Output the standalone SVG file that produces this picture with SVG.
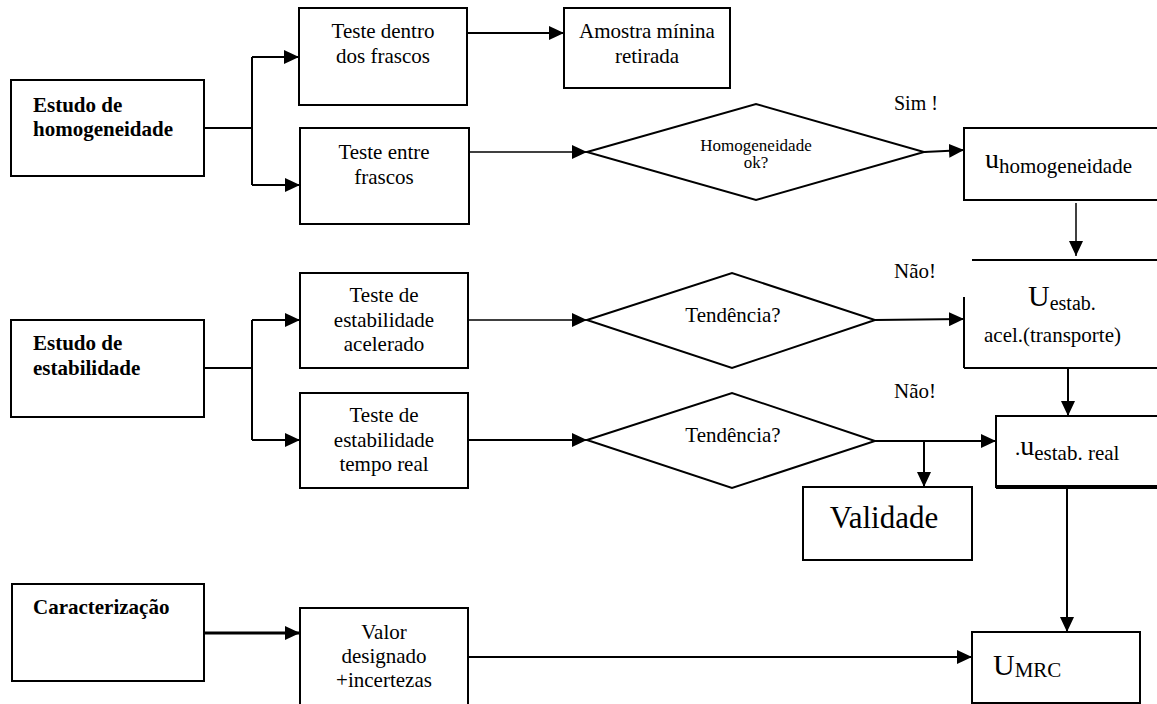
<svg xmlns="http://www.w3.org/2000/svg" width="1157" height="704" viewBox="0 0 1157 704" font-family="'Liberation Serif', 'DejaVu Serif', serif">
<defs>
<marker id="ah" markerWidth="15" markerHeight="14" refX="15" refY="7" orient="auto" markerUnits="userSpaceOnUse">
<path d="M0,0 L15,7 L0,14 Z" fill="#000"/>
</marker>
<style>
.box{fill:#fff;stroke:#000;stroke-width:2}
.edge{fill:none;stroke:#000;stroke-width:2}
.e{fill:none;stroke:#000;stroke-width:2;marker-end:url(#ah)}
text{font-family:'Liberation Serif','DejaVu Serif',serif;fill:#000;font-size:21px}
.b{font-weight:bold}
.c{text-anchor:middle}
</style>
</defs>
<rect width="1157" height="704" fill="#fff"/>

<g id="connectors">
<path class="edge" d="M204 128 H252 M252 57 V185"/>
<path class="e" d="M252 57 H299"/>
<path class="e" d="M252 185 H300"/>
<path class="e" d="M467 33 H564"/>
<path class="e" style="stroke-width:1.5" d="M469 152 H587"/>
<path class="e" d="M924 152 L945 151 L964 150"/>
<path class="e" style="stroke-width:1.5" d="M1076 203 V256"/>
<path class="e" d="M875 320 L964 319"/>
<path class="e" d="M1068 368 V416"/>
<path class="edge" d="M204 368 H252 M252 320 V440"/>
<path class="e" d="M252 320 H300"/>
<path class="e" d="M252 440 H300"/>
<path class="e" style="stroke-width:1.5" d="M468 320 H587"/>
<path class="e" d="M468 440 H587"/>
<path class="e" d="M875 441 H996"/>
<path class="e" d="M924 441 V487"/>
<path class="e" d="M1067 488 V632"/>
<path class="e" style="stroke-width:3" d="M204 633 H300"/>
<path class="e" d="M468 657 H972"/>
</g>

<g id="n-estudo-homog">
<rect class="box" x="11" y="80" width="193" height="96"/>
<text class="b" x="33" y="112">Estudo de</text>
<text class="b" x="33" y="136">homogeneidade</text>
</g>

<g id="n-teste-dentro">
<rect class="box" x="299" y="8" width="168" height="97"/>
<text class="c" x="383" y="38">Teste dentro</text>
<text class="c" x="383" y="63">dos frascos</text>
</g>

<g id="n-amostra">
<rect class="box" x="564" y="8" width="166" height="80"/>
<text class="c" x="647" y="38">Amostra mínina</text>
<text class="c" x="647" y="63">retirada</text>
</g>

<g id="n-teste-entre">
<rect class="box" x="300" y="128" width="169" height="96"/>
<text class="c" x="384" y="159">Teste entre</text>
<text class="c" x="384" y="184">frascos</text>
</g>

<g id="n-dec-homog">
<polygon class="box" points="587,152 756,104 924,152 756,200"/>
<text class="c" x="756" y="151" style="font-size:17px">Homogeneidade</text>
<text class="c" x="756" y="168" style="font-size:17px">ok?</text>
</g>

<text x="894" y="110" style="font-size:20px">Sim !</text>

<g id="n-u-homog">
<rect class="box" x="964" y="128" width="210" height="72"/>
<text x="985" y="168"><tspan style="font-size:28px">u</tspan><tspan dy="5">homogeneidade</tspan></text>
</g>

<g id="n-u-estab-acel">
<path class="edge" d="M972 260 H1160 M964 297 V368 M964 368 H1160"/>
<text x="1028" y="306"><tspan style="font-size:30px">U</tspan><tspan dy="4" style="font-size:20px">estab.</tspan></text>
<text x="984" y="342">acel.(transporte)</text>
</g>

<text x="894" y="278">Não!</text>

<g id="n-estudo-estab">
<rect class="box" x="11" y="320" width="193" height="97"/>
<text class="b" x="33" y="350">Estudo de</text>
<text class="b" x="33" y="375">estabilidade</text>
</g>

<g id="n-teste-acel">
<rect class="box" x="300" y="273" width="168" height="95"/>
<text class="c" x="384" y="302">Teste de</text>
<text class="c" x="384" y="327">estabilidade</text>
<text class="c" x="384" y="351">acelerado</text>
</g>

<g id="n-dec-tend1">
<polygon class="box" points="587,320 732,273 875,320 732,368"/>
<text class="c" x="733" y="322">Tendência?</text>
</g>

<text x="894" y="398">Não!</text>

<g id="n-teste-real">
<rect class="box" x="300" y="393" width="168" height="95"/>
<text class="c" x="384" y="422">Teste de</text>
<text class="c" x="384" y="447">estabilidade</text>
<text class="c" x="384" y="471">tempo real</text>
</g>

<g id="n-dec-tend2">
<polygon class="box" points="587,440 732,393 875,441 732,488"/>
<text class="c" x="733" y="442">Tendência?</text>
</g>

<g id="n-u-estab-real">
<rect class="box" x="996" y="416" width="180" height="71"/>
<path d="M996 487 H1160" stroke="#000" stroke-width="4"/>
<text x="1015" y="455"><tspan>.</tspan><tspan style="font-size:28px">u</tspan><tspan dy="5">estab. real</tspan></text>
</g>

<g id="n-validade">
<rect class="box" x="803" y="487" width="169" height="73"/>
<text class="c" x="884" y="528" style="font-size:31px">Validade</text>
</g>

<g id="n-caracterizacao">
<rect class="box" x="12" y="584" width="192" height="97"/>
<text class="b" x="33" y="614">Caracterização</text>
</g>

<g id="n-valor">
<rect class="box" x="300" y="608" width="168" height="110"/>
<text class="c" x="384" y="639">Valor</text>
<text class="c" x="384" y="663">designado</text>
<text class="c" x="384" y="687">+incertezas</text>
</g>

<g id="n-umrc">
<rect class="box" x="972" y="632" width="168" height="71"/>
<text x="993" y="675"><tspan style="font-size:30px">U</tspan><tspan dy="2">MRC</tspan></text>
</g>
</svg>
